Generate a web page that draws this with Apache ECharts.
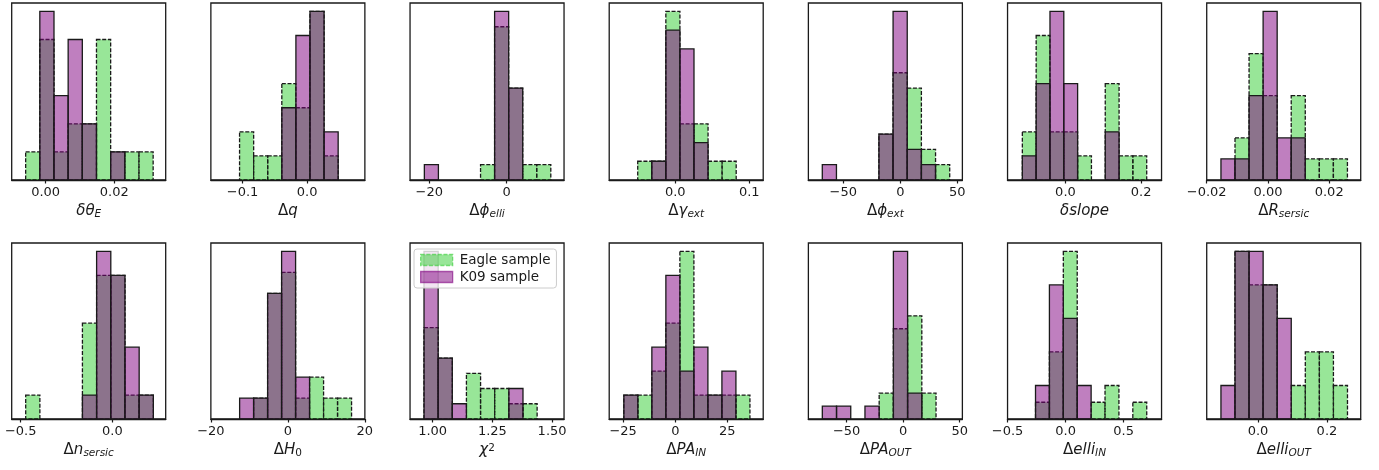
<!DOCTYPE html>
<html><head><meta charset="utf-8">
<script src="https://cdn.jsdelivr.net/npm/echarts@6/dist/echarts.min.js"></script>
<style>html,body{margin:0;padding:0;background:#fff}#c{width:1379px;height:470px}</style>
</head><body><div id="c"></div>
<script>
// axis titles (rich text: u = upright, m = math italic, s = italic subscript, z = upright subscript, p = superscript)
const axisTitles = [
  '{m|δθ}{s|E}', '{u|Δ}{m|q}', '{u|Δ}{m|ϕ}{s|elli}', '{u|Δ}{m|γ}{s|ext}', '{u|Δ}{m|ϕ}{s|ext}',
  '{m|δslope}', '{u|Δ}{m|R}{s|sersic}',
  '{u|Δ}{m|n}{s|sersic}', '{u|Δ}{m|H}{z|0}', '{m|χ}{p|2}', '{u|Δ}{m|PA}{s|IN}', '{u|Δ}{m|PA}{s|OUT}',
  '{u|Δ}{m|elli}{s|IN}', '{u|Δ}{m|elli}{s|OUT}'
];
// histogram bins: first edge and bin width of each panel
const binStart = [-0.00583, -0.1047, -21.29, -0.0507, -68.4, -0.1139, -0.01535,
                  -0.4727, -12.53, 0.9638, -24.68, -71.47, -0.2592, -0.1077];
const binWidth = [0.00413, 0.02184, 3.64, 0.019, 12.41, 0.03652, 0.00459,
                  0.07737, 3.634, 0.05919, 6.723, 12.57, 0.1197, 0.04081];
// axis limits
const xMin = [-0.0099, -0.1492, -25.0, -0.0892, -80.6, -0.153, -0.02,
              -0.549, -20, 0.9053, -31.7, -83.8, -0.5, -0.149];
const xMax = [0.035, 0.0896, 14.9, 0.1188, 54.4, 0.254, 0.0303,
              0.291, 20, 1.55, 42.2, 52.4, 0.826, 0.298];
// ticks
const tickValues = [[0, 0.02], [-0.1, 0], [-20, 0], [0, 0.1], [-50, 0, 50], [0, 0.2], [-0.02, 0, 0.02],
                    [-0.5, 0], [-20, 0, 20], [1, 1.25, 1.5], [-25, 0, 25], [-50, 0, 50], [-0.5, 0, 0.5], [0, 0.2]];
const tickLabels = [['0.00', '0.02'], ['−0.1', '0.0'], ['−20', '0'], ['0.0', '0.1'], ['−50', '0', '50'], ['0.0', '0.2'], ['−0.02', '0.00', '0.02'],
                    ['−0.5', '0.0'], ['−20', '0', '20'], ['1.00', '1.25', '1.50'], ['−25', '0', '25'], ['−50', '0', '50'], ['−0.5', '0.0', '0.5'], ['0.0', '0.2']];
// counts per bin: Eagle sample
const eagle_dThetaE = [1, 5, 1, 2, 2, 5, 1, 1, 1];
const eagle_dQ = [2, 1, 1, 4, 3, 7, 1];
const eagle_dPhiElli = [0, 0, 0, 0, 1, 10, 6, 1, 1];
const eagle_dGammaExt = [1, 1, 9, 3, 3, 1, 1];
const eagle_dPhiExt = [0, 0, 0, 0, 3, 7, 6, 2, 1];
const eagle_dSlope = [2, 6, 2, 2, 1, 0, 4, 1, 1];
const eagle_dRsersic = [0, 2, 6, 4, 0, 4, 1, 1, 1];
const eagle_dNsersic = [1, 0, 0, 0, 4, 6, 6, 1, 1];
const eagle_dH0 = [0, 1, 6, 7, 1, 2, 1, 1];
const eagle_chi2 = [6, 4, 0, 3, 2, 2, 1, 1];
const eagle_dPAin = [1, 1, 2, 4, 7, 1, 1, 1, 1];
const eagle_dPAout = [0, 0, 0, 0, 2, 7, 8, 2];
const eagle_dElliIn = [1, 4, 10, 0, 1, 2, 0, 1];
const eagle_dElliOut = [0, 5, 4, 4, 0, 1, 2, 2, 1];
// counts per bin: K09 sample
const k09_dThetaE = [0, 6, 3, 5, 2, 0, 1, 0, 0];
const k09_dQ = [0, 0, 0, 3, 6, 7, 2];
const k09_dPhiElli = [1, 0, 0, 0, 0, 11, 6, 0, 0];
const k09_dGammaExt = [0, 1, 8, 7, 2, 0, 0];
const k09_dPhiExt = [1, 0, 0, 0, 3, 11, 2, 1, 0];
const k09_dSlope = [1, 4, 7, 4, 0, 0, 2, 0, 0];
const k09_dRsersic = [1, 1, 4, 8, 2, 2, 0, 0, 0];
const k09_dNsersic = [0, 0, 0, 0, 1, 7, 6, 3, 1];
const k09_dH0 = [1, 1, 6, 8, 2, 0, 0, 0];
const k09_chi2 = [11, 4, 1, 0, 0, 0, 2, 0];
const k09_dPAin = [1, 0, 3, 6, 2, 3, 1, 2, 0];
const k09_dPAout = [1, 1, 0, 1, 0, 13, 2, 0];
const k09_dElliIn = [2, 8, 6, 2, 0, 0, 0, 0];
const k09_dElliOut = [1, 5, 5, 4, 3, 0, 0, 0, 0];

const eagleCounts = [eagle_dThetaE, eagle_dQ, eagle_dPhiElli, eagle_dGammaExt, eagle_dPhiExt, eagle_dSlope, eagle_dRsersic,
  eagle_dNsersic, eagle_dH0, eagle_chi2, eagle_dPAin, eagle_dPAout, eagle_dElliIn, eagle_dElliOut];
const k09Counts = [k09_dThetaE, k09_dQ, k09_dPhiElli, k09_dGammaExt, k09_dPhiExt, k09_dSlope, k09_dRsersic,
  k09_dNsersic, k09_dH0, k09_chi2, k09_dPAin, k09_dPAout, k09_dElliIn, k09_dElliOut];

const FONT = 'DejaVu Sans';
const INK = '#1a1a1a';
const GREEN = 'rgba(50,205,50,0.5)';
const PURPLE = 'rgba(128,0,128,0.5)';

function histData(i, counts) {
  const out = [];
  counts.forEach((c, k) => {
    if (c > 0) out.push([binStart[i] + k * binWidth[i], binStart[i] + (k + 1) * binWidth[i], c]);
  });
  return out;
}
function makeRender(fill, dashed) {
  return function (params, api) {
    const p0 = api.coord([api.value(0), 0]);
    const p1 = api.coord([api.value(1), api.value(2)]);
    return {
      type: 'rect',
      shape: { x: p0[0], y: p1[1], width: p1[0] - p0[0], height: p0[1] - p1[1] },
      style: { fill: fill, stroke: INK, lineWidth: 1.3, lineDash: dashed ? [4, 1.7] : null }
    };
  };
}

const grids = [], xAxes = [], yAxes = [], series = [];
const richTitle = {
  m: { fontFamily: FONT, fontSize: 15, fontStyle: 'italic', color: INK, lineHeight: 16, verticalAlign: 'top' },
  u: { fontFamily: FONT, fontSize: 15, color: INK, lineHeight: 16, verticalAlign: 'top' },
  s: { fontFamily: FONT, fontSize: 10.5, fontStyle: 'italic', color: INK, lineHeight: 7, verticalAlign: 'bottom' },
  z: { fontFamily: FONT, fontSize: 10.5, color: INK, lineHeight: 7, verticalAlign: 'bottom' },
  p: { fontFamily: FONT, fontSize: 10.5, color: INK, lineHeight: 7, verticalAlign: 'top' }
};
for (let i = 0; i < 14; i++) {
  const row = Math.floor(i / 7), col = i % 7;
  grids.push({
    left: 11.7 + 199.17 * col, width: 154,
    top: row === 0 ? 3 : 243, height: row === 0 ? 177 : 176,
    show: true, borderColor: INK, borderWidth: 1.3, backgroundColor: 'transparent'
  });
  const tv = tickValues[i], tl = tickLabels[i];
  const span = xMax[i] - xMin[i];
  xAxes.push({
    type: 'value', gridIndex: i, min: xMin[i], max: xMax[i],
    axisLine: { show: true, lineStyle: { color: INK, width: 1.3 } },
    axisTick: { show: true, customValues: tv, length: 3.5, lineStyle: { color: INK, width: 1.2 } },
    axisLabel: {
      customValues: tv, fontFamily: FONT, fontSize: 13, color: INK, margin: 6,
      formatter: function (v) {
        for (let k = 0; k < tv.length; k++) if (Math.abs(tv[k] - v) < span * 1e-6) return tl[k];
        return '';
      }
    },
    splitLine: { show: false },
    name: axisTitles[i], nameLocation: 'middle', nameGap: 24,
    nameTextStyle: { rich: richTitle }
  });
  const ymax = Math.max(...eagleCounts[i], ...k09Counts[i]) * 1.05;
  yAxes.push({ type: 'value', gridIndex: i, min: 0, max: ymax, show: false, splitLine: { show: false } });
  series.push({
    type: 'custom', name: 'Eagle sample', xAxisIndex: i, yAxisIndex: i,
    data: histData(i, eagleCounts[i]), encode: { x: [0, 1], y: 2 },
    renderItem: makeRender(GREEN, true), itemStyle: { color: GREEN }, silent: true
  });
  series.push({
    type: 'custom', name: 'K09 sample', xAxisIndex: i, yAxisIndex: i,
    data: histData(i, k09Counts[i]), encode: { x: [0, 1], y: 2 },
    renderItem: makeRender(PURPLE, false), itemStyle: { color: PURPLE }, silent: true
  });
}

const chart = echarts.init(document.getElementById('c'), null, { renderer: 'canvas' });
chart.setOption({
  animation: false,
  backgroundColor: '#fff',
  grid: grids, xAxis: xAxes, yAxis: yAxes, series: series,
  legend: {
    left: 414, top: 249, orient: 'vertical', selectedMode: false,
    padding: [4, 6, 4, 6], itemGap: 3, itemWidth: 32, itemHeight: 11,
    backgroundColor: 'rgba(255,255,255,0.8)', borderColor: '#cccccc', borderWidth: 1, borderRadius: 3,
    textStyle: { fontFamily: FONT, fontSize: 13.5, color: INK, padding: [0, 0, 0, 2] },
    icon: 'rect', z: 10,
    data: [
      { name: 'Eagle sample', itemStyle: { color: GREEN, borderColor: 'rgba(50,205,50,0.6)', borderWidth: 1.3, borderType: [4, 1.7] } },
      { name: 'K09 sample', itemStyle: { color: PURPLE, borderColor: 'rgba(128,0,128,0.6)', borderWidth: 1.3 } }
    ]
  }
});
</script></body></html>
